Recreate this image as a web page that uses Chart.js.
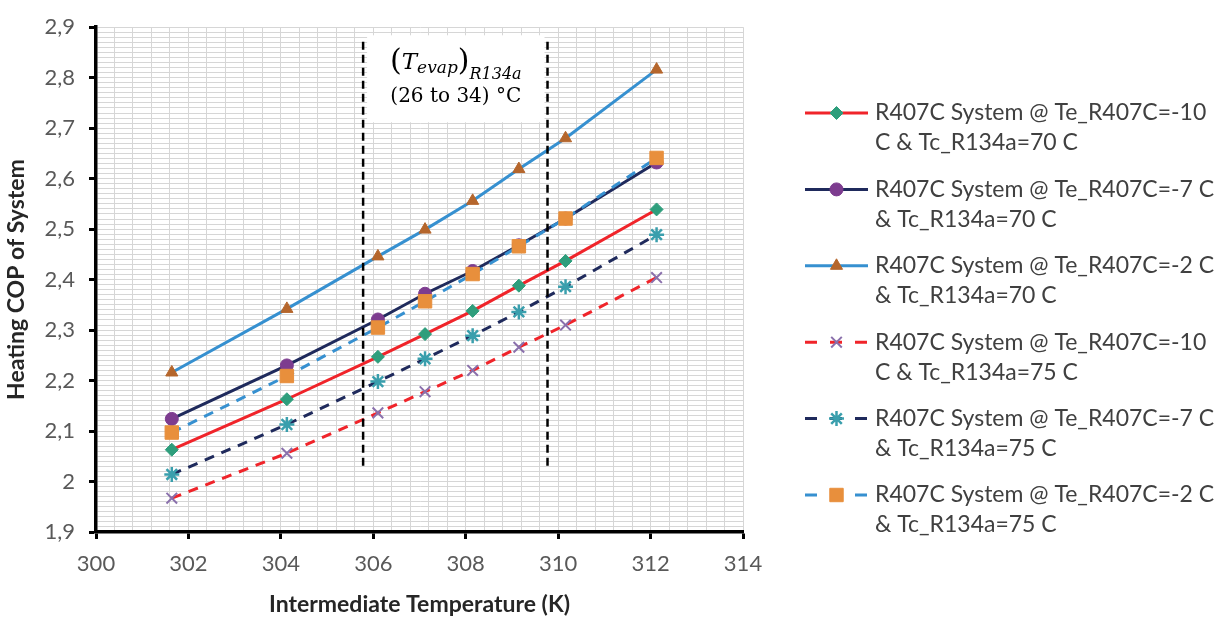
<!DOCTYPE html>
<html>
<head>
<meta charset="utf-8">
<script src="https://cdn.jsdelivr.net/npm/chart.js@4.4.1/dist/chart.umd.min.js"></script>
<style>
  html, body { margin: 0; padding: 0; background: #ffffff; }
  canvas { display: block; }
</style>
</head>
<body>
<canvas id="cop" width="1223" height="618"></canvas>
<script>
// Intermediate temperature (K) at which each COP was evaluated
const tempK = [301.64, 304.13, 306.1, 307.12, 308.15, 309.15, 310.16, 312.13];

// Heating COP of the cascade system
const copTe10Tc70 = [2.063, 2.163, 2.247, 2.292, 2.338, 2.388, 2.437, 2.539];
const copTe7Tc70  = [2.124, 2.230, 2.321, 2.372, 2.417, 2.468, 2.521, 2.632];
const copTe2Tc70  = [2.216, 2.342, 2.446, 2.499, 2.556, 2.619, 2.680, 2.816];
const copTe10Tc75 = [1.967, 2.056, 2.136, 2.178, 2.220, 2.266, 2.310, 2.404];
const copTe7Tc75  = [2.014, 2.113, 2.198, 2.243, 2.289, 2.336, 2.386, 2.489];
const copTe2Tc75  = [2.097, 2.209, 2.305, 2.357, 2.411, 2.466, 2.521, 2.641];

const seriesLabels = [
  ['R407C System @ Te_R407C=-10', 'C & Tc_R134a=70 C'],
  ['R407C System @ Te_R407C=-7 C', '& Tc_R134a=70 C'],
  ['R407C System @ Te_R407C=-2 C', '& Tc_R134a=70 C'],
  ['R407C System @ Te_R407C=-10', 'C & Tc_R134a=75 C'],
  ['R407C System @ Te_R407C=-7 C', '& Tc_R134a=75 C'],
  ['R407C System @ Te_R407C=-2 C', '& Tc_R134a=75 C']
];

// R134a evaporating band (26 to 34 °C) marked on the temperature axis
const evapBandK = [305.78, 309.77];
const evapBandCop = [2.031, 2.88];

// Axis ticks
const xTickValues = [300, 302, 304, 306, 308, 310, 312, 314];
const xTickLabels = ['300', '302', '304', '306', '308', '310', '312', '314'];
const yTickValues = [1.9, 2.0, 2.1, 2.2, 2.3, 2.4, 2.5, 2.6, 2.7, 2.8, 2.9];
const yTickLabels = ['1,9', '2', '2,1', '2,2', '2,3', '2,4', '2,5', '2,6', '2,7', '2,8', '2,9'];

// Minor grid: every 0.4 K and every 0.01 of COP
const xGridValues = [];
for (let i = 0; i <= 35; i++) xGridValues.push((3000 + 4 * i) / 10);
const yGridValues = [];
for (let i = 190; i <= 290; i++) yGridValues.push(i / 100);

const seriesValues = [copTe10Tc70, copTe7Tc70, copTe2Tc70, copTe10Tc75, copTe7Tc75, copTe2Tc75];

const RED = '#f0242a', NAVY = '#1f2a5c', BLUE = '#3690d0';
const seriesStyles = [
  { line: RED,  dash: [],      point: 'rectRot',  r: 6.5, fill: '#2e9e7c', edge: '#2e9e7c', pw: 1 },
  { line: NAVY, dash: [],      point: 'circle',   r: 6.5, fill: '#7d3c8f', edge: '#7d3c8f', pw: 1 },
  { line: BLUE, dash: [],      point: 'triangle', r: 7,   fill: '#b5662c', edge: '#b5662c', pw: 1 },
  { line: RED,  dash: [10, 8], point: 'crossRot', r: 7.5, fill: '#8a70ac', edge: '#8a70ac', pw: 2 },
  { line: NAVY, dash: [10, 8], point: 'star',     r: 7.5, fill: '#3a9fad', edge: '#3a9fad', pw: 2.5 },
  { line: BLUE, dash: [10, 8], point: 'rect',     r: 9.5, fill: '#e88f3c', edge: '#e88f3c', pw: 1 }
];

const near = (a, b) => Math.abs(a - b) < 1e-6;
const isMajorX = v => xTickValues.some(t => near(t, v));
const isMajorY = v => yTickValues.some(t => near(t, v));

const datasets = seriesValues.map((vals, i) => {
  const s = seriesStyles[i];
  return {
    label: seriesLabels[i].join(' '),
    data: tempK.map((x, k) => ({ x, y: vals[k] })),
    borderColor: s.line,
    borderWidth: 3,
    borderDash: s.dash,
    pointStyle: s.point,
    pointRadius: s.r,
    pointHoverRadius: s.r,
    pointBackgroundColor: s.fill,
    pointBorderColor: s.edge,
    pointBorderWidth: s.pw,
    tension: 0,
    fill: false,
    order: 5 - i
  };
});

// The two dashed bounds of the evaporating band
evapBandK.forEach(k => {
  datasets.push({
    label: '',
    data: [{ x: k, y: evapBandCop[0] }, { x: k, y: evapBandCop[1] }],
    borderColor: '#000000',
    borderWidth: 2.5,
    borderDash: [8, 5],
    pointRadius: 0,
    pointHoverRadius: 0,
    fill: false,
    order: -1
  });
});

// White note box between the band bounds
const bandNote = {
  id: 'bandNote',
  beforeDatasetsDraw(chart) {
    const { ctx, scales: { x, y } } = chart;
    const l = x.getPixelForValue(evapBandK[0]) + 4;
    const r = x.getPixelForValue(evapBandK[1]) - 3;
    const t = y.getPixelForValue(evapBandCop[1]) - 2;
    const h = 87;
    ctx.save();
    ctx.fillStyle = '#ffffff';
    ctx.fillRect(l, t, r - l, h);

    const cx = (l + r) / 2;
    const base = t + 34;
    const parts = [
      { s: '(',     f: '30px "DejaVu Serif"',        dy: 1 },
      { s: 'T',     f: 'italic 23px "DejaVu Serif"', dy: 0 },
      { s: 'evap',  f: 'italic 17px "DejaVu Serif"', dy: 4 },
      { s: ')',     f: '30px "DejaVu Serif"',        dy: 1 },
      { s: 'R134a', f: 'italic 16px "DejaVu Serif"', dy: 10 }
    ];
    let total = 0;
    parts.forEach(p => { ctx.font = p.f; p.w = ctx.measureText(p.s).width; total += p.w; });
    let px = cx - total / 2;
    ctx.fillStyle = '#000000';
    ctx.textBaseline = 'alphabetic';
    ctx.textAlign = 'left';
    parts.forEach(p => { ctx.font = p.f; ctx.fillText(p.s, px, base + p.dy); px += p.w; });

    ctx.font = '20px "DejaVu Serif"';
    ctx.textAlign = 'center';
    ctx.fillText('(26 to 34) \u00B0C', cx, t + 67);
    ctx.restore();
  }
};

// Legend on the right with a line sample and marker per series
const sideLegend = {
  id: 'sideLegend',
  afterDraw(chart) {
    const ctx = chart.ctx;
    const x0 = chart.chartArea.right + 62;
    const x1 = x0 + 63;
    const tx = x1 + 7;
    const top = 113, step = 76.4, lh = 30;
    ctx.save();
    seriesLabels.forEach((lines, i) => {
      const ds = chart.data.datasets[i];
      const s = seriesStyles[i];
      const yy = top + i * step;
      ctx.strokeStyle = ds.borderColor;
      ctx.lineWidth = 3;
      ctx.setLineDash(s.dash.length ? [12, 13] : []);
      ctx.beginPath();
      ctx.moveTo(x0, yy);
      ctx.lineTo(x1, yy);
      ctx.stroke();
      ctx.setLineDash([]);
      ctx.fillStyle = s.fill;
      ctx.strokeStyle = s.edge;
      ctx.lineWidth = s.pw;
      Chart.helpers.drawPoint(ctx, { pointStyle: s.point, radius: s.r, borderWidth: s.pw, rotation: 0 }, (x0 + x1) / 2, yy);
      ctx.fillStyle = '#404040';
      ctx.font = '23px Lato';
      ctx.textBaseline = 'middle';
      ctx.textAlign = 'left';
      lines.forEach((txt, j) => ctx.fillText(txt, tx, yy + j * lh));
    });
    ctx.restore();
  }
};

const tickFont = { family: 'Lato', size: 22 };
const titleFont = { family: 'Lato', size: 23, weight: 'bold', lineHeight: 1.2 };

new Chart(document.getElementById('cop'), {
  type: 'line',
  data: { datasets },
  plugins: [bandNote, sideLegend],
  options: {
    responsive: false,
    animation: false,
    devicePixelRatio: 1,
    layout: { padding: { left: 0, right: 480, top: 19, bottom: 0 } },
    plugins: {
      legend: { display: false },
      tooltip: { enabled: false }
    },
    scales: {
      x: {
        type: 'linear',
        min: 300,
        max: 314,
        afterBuildTicks: scale => { scale.ticks = xGridValues.map(v => ({ value: v })); },
        afterFit: scale => { scale.height = 86; },
        ticks: {
          autoSkip: false,
          maxRotation: 0,
          minRotation: 0,
          padding: 12,
          color: '#595959',
          font: tickFont,
          callback: v => {
            const k = xTickValues.findIndex(t => near(t, v));
            return k >= 0 ? xTickLabels[k] : '';
          }
        },
        grid: {
          color: '#d6d6d6',
          lineWidth: 1,
          drawTicks: true,
          tickLength: 7,
          tickWidth: 3,
          tickColor: ctx => (ctx.tick && isMajorX(ctx.tick.value)) ? '#000000' : 'rgba(0,0,0,0)'
        },
        border: { display: true, color: '#000000', width: 3.5 },
        title: {
          display: true,
          text: 'Intermediate Temperature (K)',
          color: '#262626',
          font: titleFont,
          padding: { top: 0, bottom: 0 }
        }
      },
      y: {
        type: 'linear',
        min: 1.9,
        max: 2.9,
        afterBuildTicks: scale => { scale.ticks = yGridValues.map(v => ({ value: v })); },
        afterFit: scale => { scale.width = 96; },
        ticks: {
          autoSkip: false,
          padding: 14,
          color: '#595959',
          font: tickFont,
          callback: v => {
            const k = yTickValues.findIndex(t => near(t, v));
            return k >= 0 ? yTickLabels[k] : '';
          }
        },
        grid: {
          color: '#d6d6d6',
          lineWidth: 1,
          drawTicks: true,
          tickLength: 7,
          tickWidth: 3,
          tickColor: ctx => (ctx.tick && isMajorY(ctx.tick.value)) ? '#000000' : 'rgba(0,0,0,0)'
        },
        border: { display: true, color: '#000000', width: 3.5 },
        title: {
          display: true,
          text: 'Heating COP of System',
          color: '#262626',
          font: titleFont,
          padding: { top: 3, bottom: 0 }
        }
      }
    }
  }
});
</script>
</body>
</html>
